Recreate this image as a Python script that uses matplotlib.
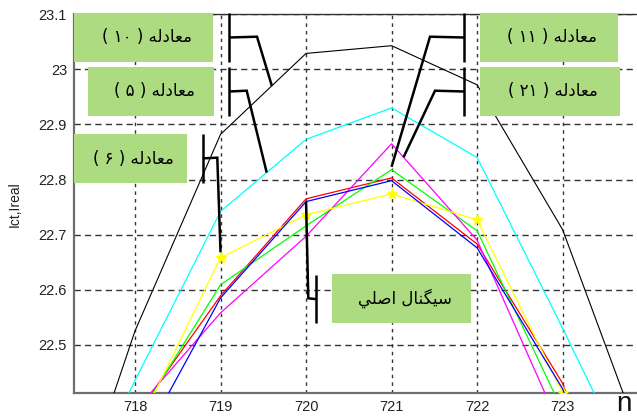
import numpy as np
import matplotlib
matplotlib.use("Agg")
import matplotlib.pyplot as plt
from matplotlib.lines import Line2D
from matplotlib.patches import Rectangle

plt.rcParams['lines.scale_dashes'] = False

# ---------------- data ----------------
n = [717, 718, 719, 720, 721, 722, 723, 724]
eq10 = [22.065, 22.525, 22.882, 23.029, 23.043, 22.972, 22.709, 22.29]   # black
eq5 = [22.12, 22.435, 22.742, 22.873, 22.930, 22.840, 22.530, 22.21]    # cyan
original = [22.00, 22.30, 22.585, 22.760, 22.798, 22.676, 22.420, 22.00]  # blue
red_series = [22.10, 22.37, 22.589, 22.765, 22.803, 22.683, 22.430, 22.00]
eq11 = [22.10, 22.36, 22.609, 22.716, 22.818, 22.707, 22.380, 22.05]   # green
eq21 = [22.20, 22.38, 22.558, 22.697, 22.865, 22.690, 22.340, 22.00]   # magenta
eq6 = [22.00, 22.34, 22.658, 22.736, 22.774, 22.727, 22.413, 22.10]    # yellow

xticks = [718, 719, 720, 721, 722, 723]
yticks = [22.5, 22.6, 22.7, 22.8, 22.9, 23.0, 23.1]
ytick_labels = ['22.5', '22.6', '22.7', '22.8', '22.9', '23', '23.1']

ylabel = 'Ict,Ireal'
xlabel = 'n'
label_eq10 = 'معادله ( ۱۰ )'
label_eq5 = 'معادله ( ۵ )'
label_eq6 = 'معادله ( ۶ )'
label_eq11 = 'معادله ( ۱۱ )'
label_eq21 = 'معادله ( ۲۱ )'
label_orig = 'سيگنال اصلي'

# ------------- minimal Arabic shaping + RTL ordering for display -------------
FORMS = {  # isolated, final, initial, medial
    'ا': ('\uFE8D', '\uFE8E', None, None),
    'د': ('\uFEA9', '\uFEAA', None, None),
    'ع': ('\uFEC9', '\uFECA', '\uFECB', '\uFECC'),
    'م': ('\uFEE1', '\uFEE2', '\uFEE3', '\uFEE4'),
    'ل': ('\uFEDD', '\uFEDE', '\uFEDF', '\uFEE0'),
    'ه': ('\uFEE9', '\uFEEA', '\uFEEB', '\uFEEC'),
    'س': ('\uFEB1', '\uFEB2', '\uFEB3', '\uFEB4'),
    'ي': ('\uFEF1', '\uFEF2', '\uFEF3', '\uFEF4'),
    'گ': ('\uFB92', '\uFB93', '\uFB94', '\uFB95'),
    'ن': ('\uFEE5', '\uFEE6', '\uFEE7', '\uFEE8'),
    'ص': ('\uFEB9', '\uFEBA', '\uFEBB', '\uFEBC'),
}
MIRROR = {'(': ')', ')': '('}


def shape_rtl(s):
    out = []
    for i, ch in enumerate(s):
        if ch not in FORMS:
            out.append(ch)
            continue
        iso, fin, ini, med = FORMS[ch]
        prev = s[i - 1] if i > 0 else ''
        nxt = s[i + 1] if i + 1 < len(s) else ''
        join_prev = prev in FORMS and FORMS[prev][2] is not None
        join_next = nxt in FORMS and ini is not None
        if join_prev and join_next:
            out.append(med)
        elif join_prev:
            out.append(fin)
        elif join_next:
            out.append(ini)
        else:
            out.append(iso)
    out = out[::-1]
    # keep digit runs left-to-right, mirror brackets
    res, run = [], []
    for ch in out:
        if '\u06F0' <= ch <= '\u06F9' or ch.isdigit():
            run.append(ch)
        else:
            if run:
                res.extend(run[::-1])
                run = []
            res.append(MIRROR.get(ch, ch))
    if run:
        res.extend(run[::-1])
    return ''.join(res)


# ---------------- figure ----------------
W, H = 637, 417
fig = plt.figure(figsize=(W / 100, H / 100), dpi=100)

xmin, xmax = 717.287, 724.0
ymin, ymax = 22.412, 23.1
px_per_x = 85.53
ax_left = 74 / W
ax_w = (xmax - xmin) * px_per_x / W
ax_bottom = (H - 393.3) / H
ax_top = (H - 14.3) / H
ax = fig.add_axes([ax_left, ax_bottom, ax_w, ax_top - ax_bottom])

ax.plot(n, eq10, color='black', lw=0.8, zorder=3)
ax.plot(n, eq5, color='#00FFFF', lw=0.9, zorder=3)
ax.plot(n, red_series, color='#FF0000', lw=0.9, zorder=3)
ax.plot(n, eq11, color='#00FF00', lw=0.9, zorder=3)
ax.plot(n, eq21, color='#FF00FF', lw=0.9, zorder=3)
ax.plot(n, eq6, color='#FFFF00', lw=0.9, marker='*', ms=8, mec='#FFFF00', mfc='#FFFF00', zorder=3)
ax.plot(n, original, color='#0000FF', lw=0.9, zorder=3)

ax.set_xlim(xmin, xmax)
ax.set_ylim(ymin, ymax)
ax.set_xticks(xticks)
ax.set_xticklabels([str(v) for v in xticks])
ax.set_yticks(yticks)
ax.set_yticklabels(ytick_labels)
ax.tick_params(length=0, labelsize=10.5, labelcolor='#222222', pad=5)
for lab in ax.get_xticklabels() + ax.get_yticklabels():
    lab.set_fontfamily('Liberation Sans')

for y in yticks:
    ax.axhline(y, color='#333333', lw=1.0, ls=(0, (4.5, 3.0)), zorder=1)
for x in xticks:
    ax.axvline(x, color='#333333', lw=1.0, ls=(0, (2.5, 3.0)), zorder=1)

for side in ('left', 'bottom'):
    ax.spines[side].set_color('#6e6e6e')
    ax.spines[side].set_linewidth(1.6)
ax.spines['top'].set_color('#333333')
ax.spines['top'].set_linewidth(1.0)
ax.spines['right'].set_visible(False)

ax.set_ylabel(ylabel, fontsize=10, family='Liberation Sans', color='#222222')
ax.yaxis.set_label_coords((22 - 74) / (ax_w * W), 0.5)

fig.text(616 / W, 0.0, xlabel, fontsize=20, family='Liberation Sans',
         color='#111111', ha='left', va='bottom')

# ---------------- annotation boxes ----------------
fig.canvas.draw()


def fpx(x, y):
    return (x / W, 1 - y / H)


def data_px(x, y):
    dx, dy = ax.transData.transform((x, y))
    return (dx, H - dy)


box_color = '#addb82'
boxes = [
    (label_eq10, 74, 13, 213, 62),
    (label_eq5, 88, 67, 214, 116),
    (label_eq6, 74, 134, 187, 183),
    (label_eq11, 480, 13, 618, 62),
    (label_eq21, 480, 67, 620, 116),
    (label_orig, 332, 274, 471, 323),
]
for txt, x0, y0, x1, y1 in boxes:
    fx0, fy1 = fpx(x0, y1)
    fig.add_artist(Rectangle((fx0, fy1), (x1 - x0) / W, (y1 - y0) / H,
                             transform=fig.transFigure, facecolor=box_color,
                             edgecolor='none', zorder=5))
    cx, cy = fpx((x0 + x1) / 2 + 3, (y0 + y1) / 2)
    fig.text(cx, cy, shape_rtl(txt), fontsize=12, family='DejaVu Sans',
             color='black', ha='center', va='center', zorder=6)


def callout(bar_x, bar_y0, bar_y1, knee, target):
    pts_bar = [fpx(bar_x, bar_y0), fpx(bar_x, bar_y1)]
    mid = (bar_y0 + bar_y1) / 2
    pts = [fpx(bar_x, mid), fpx(*knee), fpx(*target)]
    for seg in (pts_bar, pts):
        xs, ys = zip(*seg)
        fig.add_artist(Line2D(xs, ys, transform=fig.transFigure, color='black',
                              lw=1.8, solid_capstyle='butt', solid_joinstyle='miter', zorder=7))


callout(229, 13, 62, (257, 36.7), data_px(719.6, float(np.interp(719.6, n, eq10))))
callout(229, 67, 116, (246.7, 90.7), data_px(719.54, float(np.interp(719.54, n, eq5))))
callout(202.7, 134, 182.7, (217.3, 157.7), data_px(719, eq6[2] + 0.01))
callout(464, 13, 62, (430, 36.7), data_px(721, eq11[4] + 0.005))
callout(464, 67, 116, (435, 90.7), data_px(721.14, float(np.interp(721.14, n, eq21))))
callout(316, 275, 323.3, (308.3, 298.3), data_px(720, original[3]))

fig.savefig('out.png', dpi=100)
